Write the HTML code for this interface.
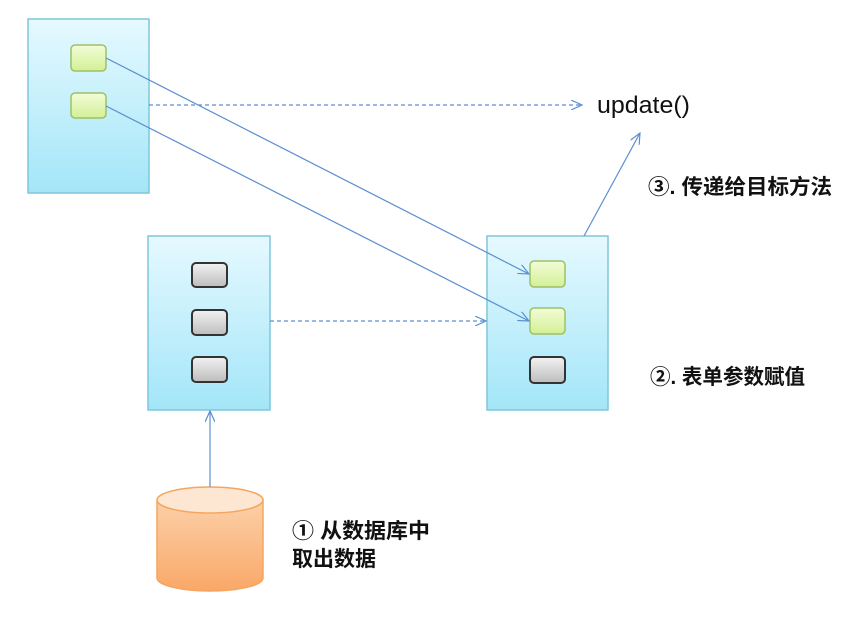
<!DOCTYPE html>
<html><head><meta charset="utf-8"><style>
body{margin:0;width:844px;height:615px;background:#fff;overflow:hidden;font-family:"Liberation Sans","Noto Sans CJK SC",sans-serif;}
</style></head><body>
<svg width="844" height="615" viewBox="0 0 844 615" xmlns="http://www.w3.org/2000/svg">
<defs>
<linearGradient id="pg" x1="0" y1="0" x2="0" y2="1"><stop offset="0" stop-color="#e6f9ff"/><stop offset="1" stop-color="#a3e6f8"/></linearGradient>
<linearGradient id="gg" x1="0" y1="0" x2="0" y2="1"><stop offset="0" stop-color="#f3fcd8"/><stop offset="1" stop-color="#d3f095"/></linearGradient>
<linearGradient id="yg" x1="0" y1="0" x2="0" y2="1"><stop offset="0" stop-color="#f2f2f2"/><stop offset="1" stop-color="#bdbdbd"/></linearGradient>
<linearGradient id="og" x1="0" y1="0" x2="0" y2="1"><stop offset="0" stop-color="#fcd0a8"/><stop offset="1" stop-color="#f9a868"/></linearGradient>
<marker id="ah" markerWidth="12" markerHeight="10" refX="11" refY="5" orient="auto" markerUnits="userSpaceOnUse"><path d="M0,0 L11,5 L0,10" fill="none" stroke="#5b8fd0" stroke-width="1.2"/></marker>
</defs>
<g stroke="#7fc7dc" stroke-width="1.5" fill="url(#pg)">
<rect x="28" y="19" width="121" height="174"/>
<rect x="148" y="236" width="122" height="174"/>
<rect x="487" y="236" width="121" height="174"/>
</g>
<g stroke="#9cc165" stroke-width="1.5" fill="url(#gg)">
<rect x="71" y="45" width="35" height="26" rx="4"/>
<rect x="71" y="93" width="35" height="25" rx="4"/>
<rect x="530" y="261" width="35" height="26" rx="4"/>
<rect x="530" y="308" width="35" height="26" rx="4"/>
</g>
<g stroke="#333" stroke-width="2" fill="url(#yg)">
<rect x="192" y="263" width="35" height="24" rx="4"/>
<rect x="192" y="310" width="35" height="25" rx="4"/>
<rect x="192" y="357" width="35" height="25" rx="4"/>
<rect x="530" y="357" width="35" height="26" rx="4"/>
</g>
<path d="M157,500 L157,578 A53,13 0 0 0 263,578 L263,500 Z" fill="url(#og)" stroke="#f5a55d" stroke-width="1.5"/>
<ellipse cx="210" cy="500" rx="53" ry="13" fill="#fde6d2" stroke="#f5a55d" stroke-width="1.5"/>
<g stroke="#5b8fd0" stroke-width="1.2" fill="none">
<line x1="106" y1="58" x2="529" y2="274" marker-end="url(#ah)"/>
<line x1="106" y1="106" x2="529" y2="321" marker-end="url(#ah)"/>
<line x1="149" y1="105" x2="582" y2="105" stroke-dasharray="4,3" marker-end="url(#ah)"/>
<line x1="270" y1="321" x2="486" y2="321" stroke-dasharray="4,3" marker-end="url(#ah)"/>
<line x1="584" y1="236" x2="640" y2="133" marker-end="url(#ah)"/>
<line x1="210" y1="487" x2="210" y2="411" marker-end="url(#ah)"/>
</g>
<g fill="#111" font-family="Liberation Sans, Noto Sans CJK SC, sans-serif">
<text x="597" y="113" font-size="24" textLength="93" lengthAdjust="spacingAndGlyphs">update()</text>
<text x="648" y="194" font-size="21" font-weight="bold" textLength="184" lengthAdjust="spacingAndGlyphs">③. 传递给目标方法</text>
<text x="650" y="384" font-size="21" font-weight="bold" textLength="155" lengthAdjust="spacingAndGlyphs">②. 表单参数赋值</text>
<text x="292" y="538" font-size="21" font-weight="bold" textLength="138" lengthAdjust="spacingAndGlyphs">① 从数据库中</text>
<text x="292" y="566" font-size="21" font-weight="bold">取出数据</text>
</g>
</svg>
</body></html>
